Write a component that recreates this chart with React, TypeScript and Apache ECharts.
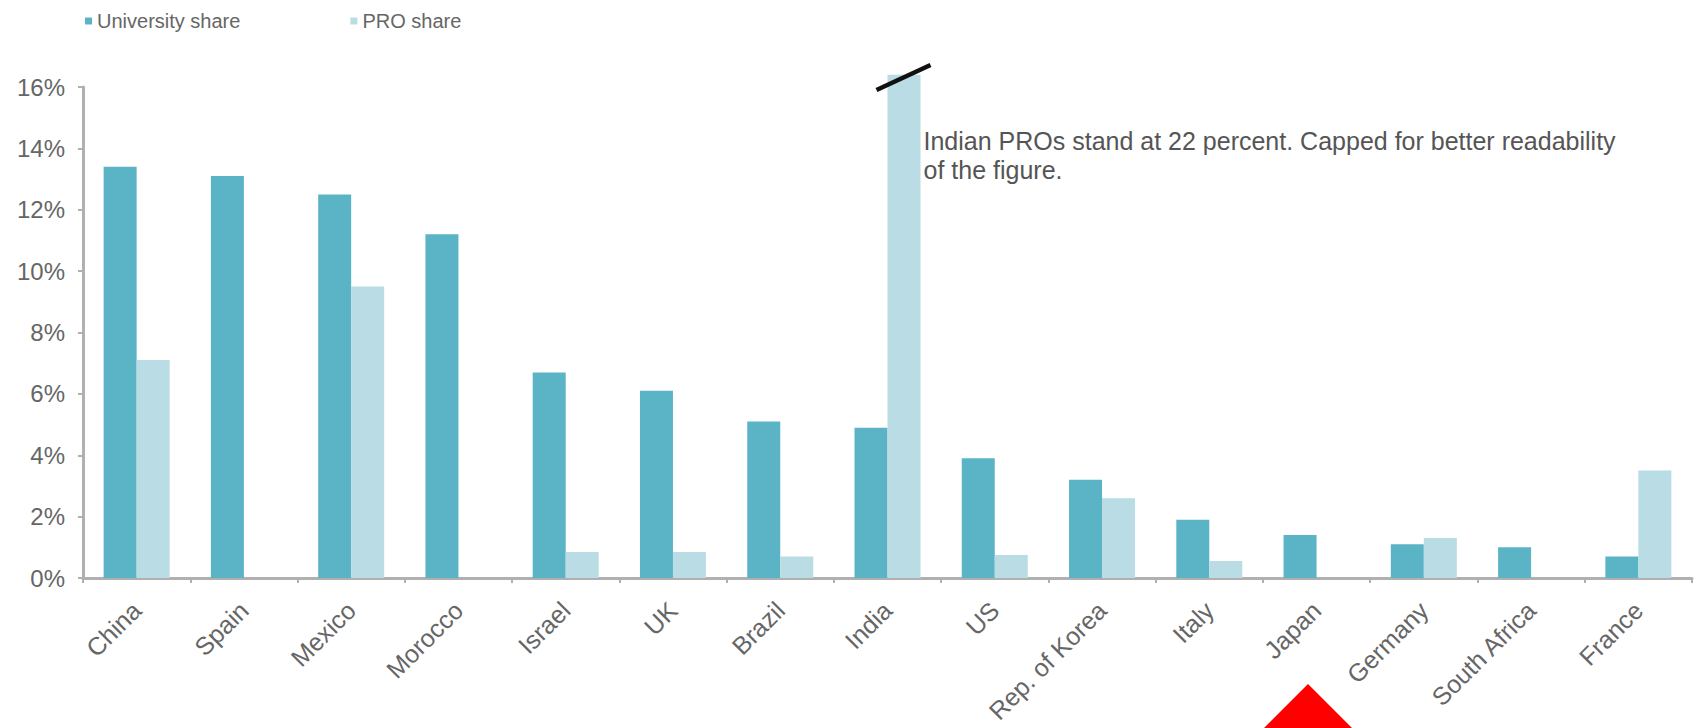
import React, { useEffect, useRef } from "react";
import * as echarts from "echarts";

const categories = [
  "China", "Spain", "Mexico", "Morocco", "Israel", "UK", "Brazil", "India",
  "US", "Rep. of Korea", "Italy", "Japan", "Germany", "South Africa", "France",
];
const universityShare = [13.4, 13.1, 12.5, 11.2, 6.7, 6.1, 5.1, 4.9, 3.9, 3.2, 1.9, 1.4, 1.1, 1.0, 0.7];
// India PRO share is 22% in reality; drawn capped just above the axis maximum
const proShare = [7.1, 0, 9.5, 0, 0.85, 0.85, 0.7, 16.4, 0.75, 2.6, 0.55, 0, 1.3, 0, 3.5];
const yTicks = [0, 2, 4, 6, 8, 10, 12, 14, 16];
const annotationLines = [
  "Indian PROs stand at 22 percent. Capped for better readability",
  "of the figure.",
];

const UNI_COLOR = "#5bb4c6";
const PRO_COLOR = "#b9dce5";
const TEXT_COLOR = "#666";
const AXIS_COLOR = "#b0b0b0";
const FONT = "Liberation Sans, Arial, sans-serif";
const BAR_W = 33;

export default function App() {
  const ref = useRef<HTMLDivElement>(null);
  useEffect(() => {
    if (!ref.current) return;
    const chart = echarts.init(ref.current, undefined, { renderer: "svg" });
    chart.setOption({
      animation: false,
      textStyle: { fontFamily: FONT },
      legend: {
        left: 80,
        top: 6,
        icon: "rect",
        itemWidth: 7,
        itemHeight: 7,
        itemGap: 110,
        textStyle: { color: TEXT_COLOR, fontSize: 20, fontFamily: FONT },
        data: ["University share", "PRO share"],
      },
      grid: { left: 83, right: 8, top: 87, bottom: 150, containLabel: false },
      xAxis: {
        type: "category",
        data: categories,
        axisLine: { lineStyle: { color: AXIS_COLOR, width: 3 } },
        axisTick: { show: true, length: 5, lineStyle: { color: AXIS_COLOR, width: 2 } },
        axisLabel: {
          rotate: 45,
          color: TEXT_COLOR,
          fontSize: 25,
          fontFamily: FONT,
          margin: 28,
          interval: 0,
        },
      },
      yAxis: {
        type: "value",
        min: 0,
        max: 16,
        interval: 2,
        axisLine: { show: true, lineStyle: { color: AXIS_COLOR, width: 3 } },
        axisTick: { show: true, length: 5, lineStyle: { color: AXIS_COLOR, width: 2 } },
        splitLine: { show: false },
        axisLabel: {
          color: TEXT_COLOR,
          fontSize: 24,
          fontFamily: FONT,
          margin: 18,
          formatter: (v: number) => (yTicks.includes(v) ? v + "%" : ""),
        },
      },
      series: [
        {
          name: "University share",
          type: "bar",
          data: universityShare,
          barWidth: BAR_W,
          barGap: "0%",
          itemStyle: { color: UNI_COLOR },
          clip: false,
        },
        {
          name: "PRO share",
          type: "bar",
          data: proShare,
          barWidth: BAR_W,
          barGap: "0%",
          itemStyle: { color: PRO_COLOR },
          clip: false,
        },
      ],
    });

    const indiaIdx = categories.indexOf("India");
    const [cx, cy] = chart.convertToPixel({ xAxisIndex: 0, yAxisIndex: 0 }, [indiaIdx, 16]) as number[];
    const chartH = chart.getHeight();
    const chartW = chart.getWidth();
    chart.setOption({
      graphic: [
        {
          type: "line",
          shape: { x1: cx - 11, y1: cy + 3, x2: cx + 43, y2: cy - 22 },
          style: { stroke: "#111", lineWidth: 4.5 },
          z: 100,
        },
        {
          type: "text",
          left: cx + 36,
          top: cy + 39,
          style: {
            text: annotationLines.join("\n"),
            fill: "#555",
            fontSize: 25,
            fontFamily: FONT,
            lineHeight: 29,
          },
          z: 100,
        },
        {
          type: "polygon",
          shape: {
            points: [
              [chartW * 0.7694, chartH - 44],
              [chartW * 0.7694 - 46, chartH + 2],
              [chartW * 0.7694 + 46, chartH + 2],
            ],
          },
          style: { fill: "#ff0000" },
          z: 200,
        },
      ],
    });
    return () => chart.dispose();
  }, []);
  return <div ref={ref} style={{ width: 1700, height: 728, position: "absolute", left: 0, top: 0, background: "#fff" }} />;
}
